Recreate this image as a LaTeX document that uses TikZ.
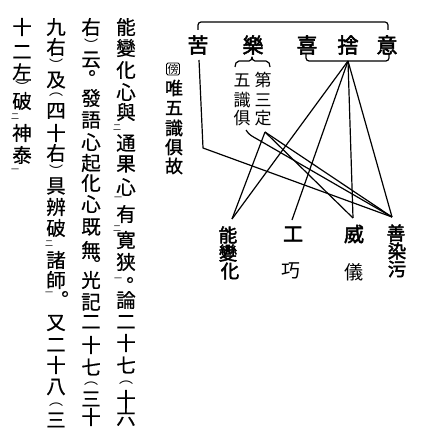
\documentclass[tikz,border=0pt]{standalone}
\usepackage{fontspec}
\newfontfamily\jp{Noto Sans CJK JP}
\newfontfamily\jpb[FakeBold=2.5]{Noto Sans CJK JP}
\newfontfamily\jpm[FakeBold=1.2]{Noto Sans CJK JP}
\newfontfamily\jps[FakeBold=0.6]{Noto Sans CJK JP}
\tikzset{
  txt/.style={font=\jps\fontsize{19.5}{19.5}\selectfont, inner sep=0pt},
  par/.style={font=\jp\fontsize{14}{14}\selectfont, inner sep=0pt},
  kt/.style={font=\jp\fontsize{8}{8}\selectfont, inner sep=0pt},
  lab/.style={font=\jpb\fontsize{21}{21}\selectfont, inner sep=0pt},
  labb/.style={font=\jpb\fontsize{18.5}{18.5}\selectfont, inner sep=0pt},
  labw/.style={font=\jpb\fontsize{20}{20}\selectfont, inner sep=0pt},
  labm/.style={font=\jpm\fontsize{18}{18}\selectfont, inner sep=0pt},
  labl/.style={font=\jp\fontsize{17}{17}\selectfont, inner sep=0pt},
  labk/.style={font=\jp\fontsize{19}{19}\selectfont, inner sep=0pt},
  conn/.style={line width=1.2pt, line join=round},
}
\begin{document}
\begin{tikzpicture}[x=1pt, y=-1pt]
\useasboundingbox (0,0) rectangle (424,436);
% ---------- left text columns (vertical) ----------
\foreach \c/\y [count=\i] in {能/27,變/48,化/70,心/92,與/112,通/143,果/164,心/187,有/214,寛/240,狭/262,論/300,二/322,十/343,七/365,十/399,六/417}
  \node[txt] (ca\i) at (126,\y) {\c};
\node[par] (caP) at (126,383) {︵};
\node[kt] (cak1) at (117,128) {二};
\node[kt] (cak2) at (118,199) {一};
\node[kt] (cak3) at (117,229) {二};
\node[kt] (cak4) at (118,280) {一};
\node[txt] (caD) at (136,280) {。};

\foreach \c/\y [count=\i] in {右/27,云/60,發/98,語/120,心/142,起/163,化/183,心/204,既/227,無/250,光/280,記/302,二/322,十/345,七/367,三/399,十/417}
  \node[txt] (cb\i) at (91,\y) {\c};
\node[par] (cbP1) at (91,45) {︶};
\node[txt] (cbD1) at (98,73) {。};
\node[txt] (cbD2) at (103,259) {。};
\node[par] (cbP2) at (91,384) {︵};

\foreach \c/\y [count=\i] in {九/27,右/47,及/80,四/111,十/133,右/153,具/186,辨/207,破/228,諸/260,師/280,又/323,二/345,十/365,八/387,三/420}
  \node[txt] (cc\i) at (56,\y) {\c};
\node[par] (ccP1) at (56,65) {︶};
\node[par] (ccP2) at (56,95) {︵};
\node[par] (ccP3) at (56,171) {︶};
\node[par] (ccP4) at (56,405) {︵};
\node[kt] (cck1) at (49,244) {二};
\node[kt] (cck2) at (49,294) {一};
\node[txt] (ccD) at (71,294) {。};

\foreach \c/\y [count=\i] in {十/27,二/52,左/72,破/101,神/133,泰/155}
  \node[txt] (cd\i) at (22,\y) {\c};
\node[par] (cdP) at (22,87) {︶};
\node[kt] (cdk1) at (15,117) {二};
\node[kt] (cdk2) at (15,171) {一};

% ---------- diagram labels ----------
\node[lab] (ku)   at (198,45) {苦};
\node[lab] (raku) at (253,45) {樂};
\node[lab] (ki)   at (307,45) {喜};
\node[lab] (sha)  at (348,45) {捨};
\node[lab] (i)    at (387,45) {意};

\foreach \c/\y [count=\i] in {第/80,三/100,定/118}
  \node[labl] (da\i) at (263,\y) {\c};
\foreach \c/\y [count=\i] in {五/80,識/100,俱/118}
  \node[labl] (db\i) at (242,\y) {\c};

\node[draw, line width=0.8pt, rounded corners=1.5pt, inner sep=1pt,
      font=\jp\fontsize{11}{11}\selectfont] (bou) at (173,69) {傍};
\foreach \c/\y [count=\i] in {唯/88,五/108,識/128,俱/147,故/166}
  \node[labm] (yu\i) at (174,\y) {\c};

\node[labb] (nou1) at (228,235) {能};
\node[labb] (nou2) at (228,253) {變};
\node[labb] (nou3) at (230,271) {化};
\node[labw] (ku1)  at (293,234) {工};
\node[labk] (ku2)  at (291,271) {巧};
\node[labw] (ig1)  at (354,234) {威};
\node[labk] (ig2)  at (354,272) {儀};
\node[labb] (ze1)  at (396,233) {善};
\node[labb] (ze2)  at (397,251) {染};
\node[labb] (ze3)  at (397,269) {污};

% ---------- connectors ----------
\coordinate (apex) at (348,61);
\coordinate (tNou) at (232,219);
\coordinate (tKu)  at (292,220);
\coordinate (tIg)  at (353,218);
\coordinate (tZe)  at (392,217);
\coordinate (kuTop) at (199,60);
\coordinate (kuBend) at (203,148);
\coordinate (hook) at (246,130);
\coordinate (jo) at (265,132);

% top bracket over all five
\draw[conn] (198,30) -- (198,25) to[out=90,in=180] (201,22) -- (385,22) to[out=0,in=90] (388,25) -- (388,30);
% lower bracket under 喜捨意
\draw[conn] (306,54) -- (306,58) to[out=-90,in=180] (309,61) -- (386,61) to[out=0,in=-90] (389,58) -- (389,54);
% brace over 五第 / 識三 / 俱定
\draw[conn] (235,67) to[out=90,in=180] (239,61) -- (249,61) to[out=0,in=-90] (252,57)
            to[out=-90,in=180] (255,61) -- (266,61) to[out=0,in=90] (270,67);

% from the apex of 喜捨意
\draw[conn] (apex) -- (tNou);
\draw[conn] (apex) -- (tKu);
\draw[conn] (apex) -- (tIg);
\draw[conn] (apex) -- (tZe);

% from 苦
\draw[conn] (kuTop) -- (kuBend) -- (tZe);

% from 第三定 / 五識俱
\draw[conn] (hook) to[out=-60,in=150] (257,139) -- (tZe);
\draw[conn] (jo) -- (tNou);
\draw[conn] (jo) -- (tIg);
\draw[conn] (jo) -- (tZe);
\end{tikzpicture}
\end{document}
